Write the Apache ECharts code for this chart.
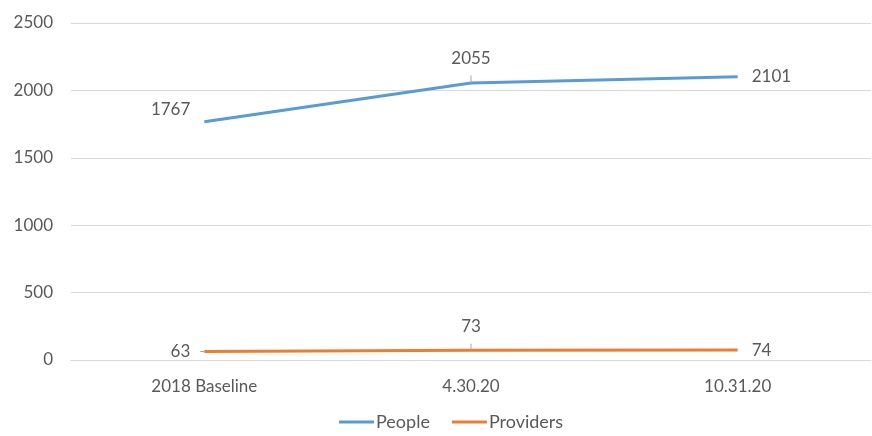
<!DOCTYPE html>
<html><head><meta charset="utf-8">
<script src="https://cdn.jsdelivr.net/npm/echarts@6/dist/echarts.min.js"></script>
<style>html,body{margin:0;padding:0;background:#fff}#c{width:872px;height:436px}</style>
</head><body><div id="c"></div>
<script>
const categories = ['2018 Baseline', '4.30.20', '10.31.20'];
const people = [1767, 2055, 2101];
const providers = [63, 73, 74];
const peopleLabelPos = ['left', 'top', 'right'];
const providersLabelPos = ['left', 'top', 'right'];

const font = 'Lato, "Open Sans", sans-serif';
const txt = '#595959';
const fs = 17;

function build(vals, pos, distTop, raiseLeft, leaders) {
  return vals.map((v, i) => ({
    value: v,
    label: {
      position: pos[i],
      distance: pos[i] === 'top' ? distTop : 14,
      offset: (pos[i] === 'left' && raiseLeft) ? [0, -12] : [0, 0]
    },
    labelLine: { show: leaders[i], lineStyle: { color: '#a6a6a6', width: 1 } }
  }));
}

const chart = echarts.init(document.getElementById('c'));
chart.setOption({
  animation: false,
  textStyle: { fontFamily: font },
  grid: { left: 71, right: 1, top: 23, bottom: 76 },
  legend: {
    bottom: 0, left: 334,
    itemWidth: 35, itemHeight: 3, itemGap: 22,
    icon: 'rect',
    textStyle: { color: txt, fontSize: 18, fontFamily: font, padding: [0, 0, 0, -3] },
    data: ['People', 'Providers']
  },
  xAxis: {
    type: 'category', data: categories, boundaryGap: true,
    axisLine: { lineStyle: { color: '#d9d9d9' } },
    axisTick: { show: false },
    axisLabel: { color: txt, fontSize: fs, margin: 18, fontFamily: font }
  },
  yAxis: {
    type: 'value', min: 0, max: 2500, interval: 500,
    axisLine: { show: false }, axisTick: { show: false },
    splitLine: { lineStyle: { color: '#d9d9d9' } },
    axisLabel: { color: txt, fontSize: fs, margin: 18, fontFamily: font, formatter: v => String(v) }
  },
  series: [
    {
      name: 'People', type: 'line', data: build(people, peopleLabelPos, 16, true, [false, true, false]),
      symbol: 'circle', symbolSize: 0, showSymbol: true,
      lineStyle: { color: '#5B9BD5', width: 3 }, itemStyle: { color: '#5B9BD5' },
      label: { show: true, color: txt, fontSize: fs, fontFamily: font }
    },
    {
      name: 'Providers', type: 'line', data: build(providers, providersLabelPos, 15, false, [true, true, false]),
      symbol: 'circle', symbolSize: 0, showSymbol: true,
      lineStyle: { color: '#ED7D31', width: 3 }, itemStyle: { color: '#ED7D31' },
      label: { show: true, color: txt, fontSize: fs, fontFamily: font }
    }
  ]
});
</script></body></html>
